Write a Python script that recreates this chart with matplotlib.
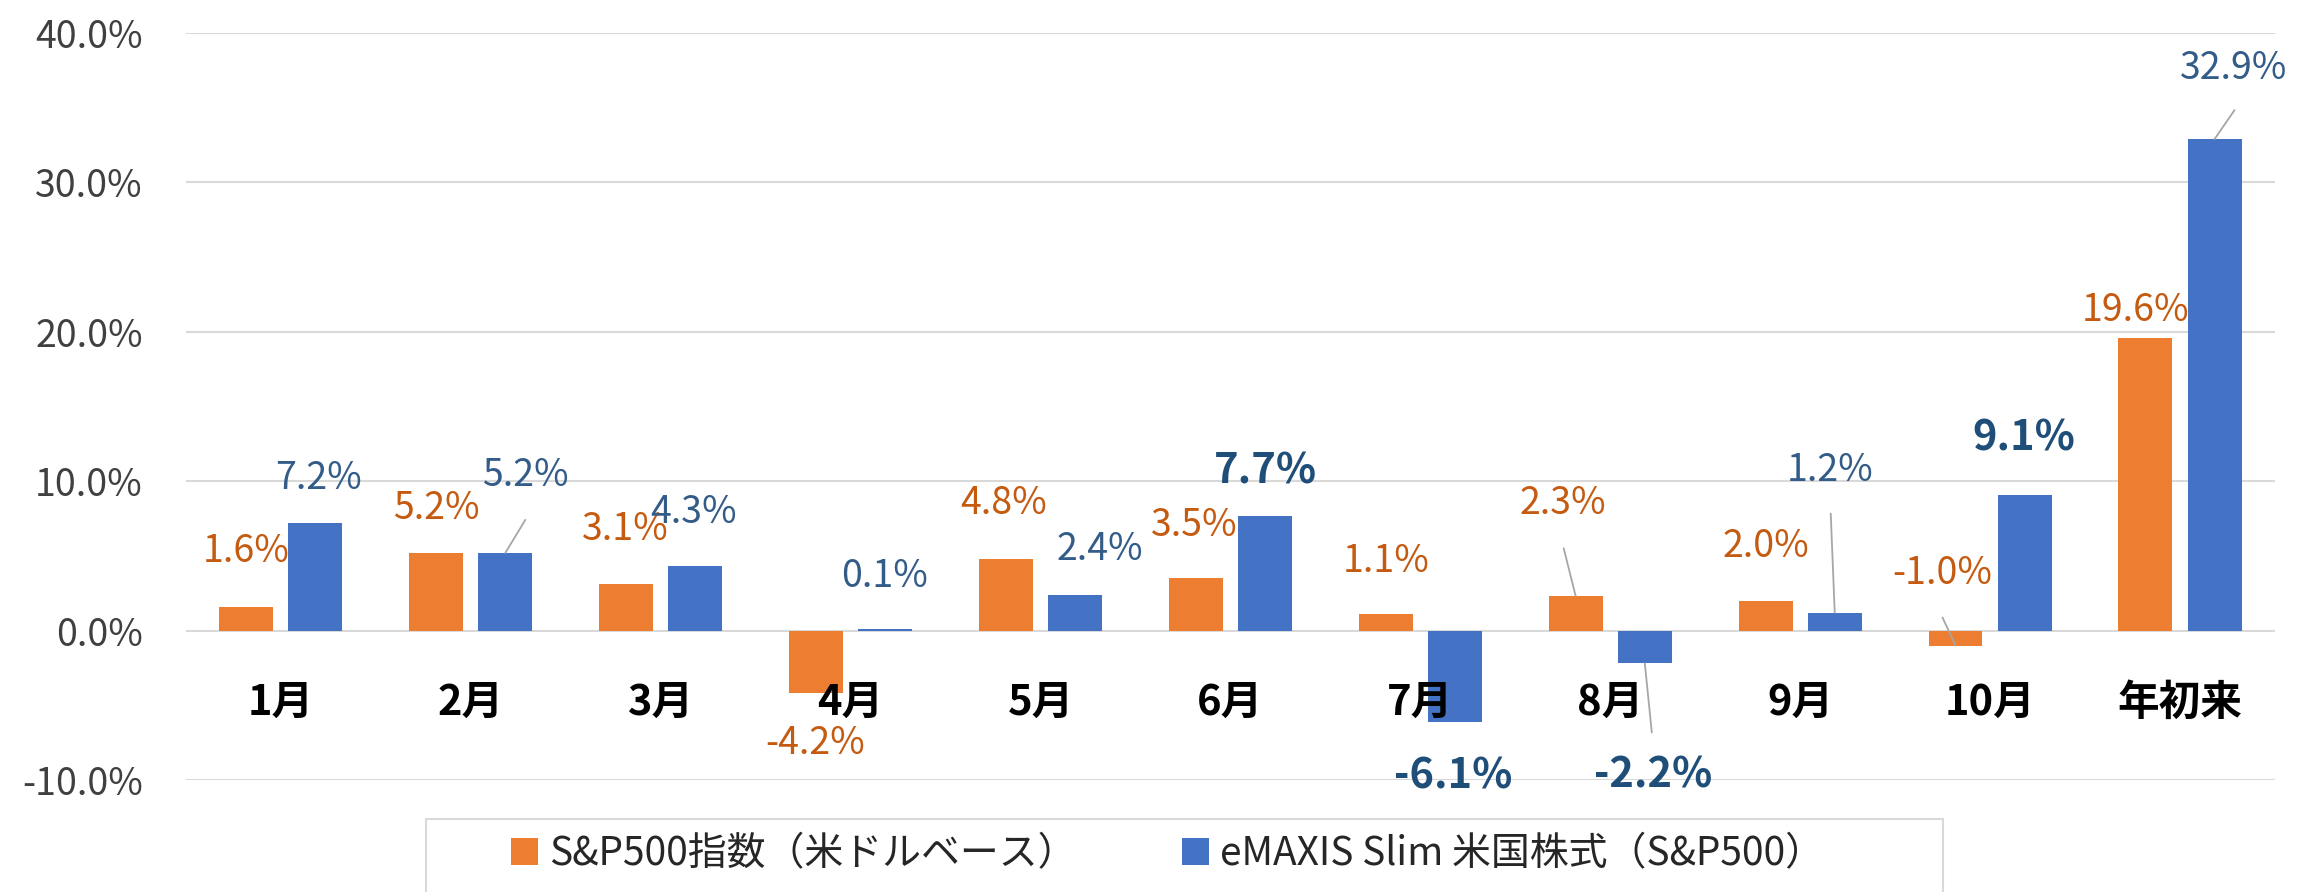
import numpy as np
import matplotlib
matplotlib.use('Agg')
import matplotlib.pyplot as plt
from matplotlib.patches import Rectangle

# データ
categories = ['1月', '2月', '3月', '4月', '5月', '6月', '7月', '8月', '9月', '10月', '年初来']
sp500 = [1.6, 5.2, 3.1, -4.2, 4.8, 3.5, 1.1, 2.3, 2.0, -1.0, 19.6]
emaxis = [7.2, 5.2, 4.3, 0.1, 2.4, 7.7, -6.1, -2.2, 1.2, 9.1, 32.9]
series_names = ['S&P500指数（米ドルベース）', 'eMAXIS Slim 米国株式（S&P500）']
yticks = [-10, 0, 10, 20, 30, 40]

# ラベル位置（バー端からのずれ, px）
sp_dx = [0, 0, -1, -1, -2, -2, 0, -13, 0, -13, -10]
sp_dy = [55, 44, 55, -50, 55, 53, 53, 93, 54, 72, 27]
em_dx = [3, 20, -2, -1, 25, 0, -2, 8, -5, -1, 19]
em_dy = [45, 77, 54, 53, 45, 44, -55, -112, 142, 56, 71]
em_bold = [5, 6, 7, 9]
# 引き出し線 (系列, 番号, dx, dy) px
leaders = [(1, 1, 20, 33), (0, 7, -12, 48), (1, 7, 7, -69), (1, 8, -4, 99),
           (0, 9, -13, 28), (1, 10, 20, 29)]

plt.rcParams['font.family'] = ['Noto Sans CJK JP', 'DejaVu Sans']

ORANGE = '#ED7D31'
BLUE = '#4472C4'
GRID = '#D9D9D9'
PT = 0.72  # px -> pt (dpi 100)

fig = plt.figure(figsize=(23.15, 8.92), dpi=100)
ax = fig.add_axes([0.0803, 0.1256, 0.9024, 0.8374])

x = np.arange(len(categories))
w = 0.284
off = 0.182
b1 = ax.bar(x - off, sp500, w, color=ORANGE, label=series_names[0], zorder=3)
b2 = ax.bar(x + off, emaxis, w, color=BLUE, label=series_names[1], zorder=3)

ax.set_xlim(-0.5, len(categories) - 0.5)
ax.set_ylim(-10, 40)
ax.set_yticks(yticks)
ax.set_yticklabels([f'{v:.1f}%' for v in yticks], fontsize=27, color='#404040')
ax.set_xticks([])
ax.tick_params(axis='y', length=0, pad=31)
ax.grid(axis='y', color=GRID, linewidth=1.5, zorder=0)
for s in ax.spines.values():
    s.set_visible(False)

# カテゴリラベル（0ライン下）
for i, c in enumerate(categories):
    ax.annotate(c, xy=(i, 0), xytext=(0, -52), textcoords='offset points',
                ha='center', va='center', fontsize=30, fontweight='bold', color='black')

# データラベル
vals = [sp500, emaxis]
for i in range(len(categories)):
    v = sp500[i]
    ax.annotate(f'{v:.1f}%', xy=(i - off, v), xytext=(sp_dx[i] * PT, sp_dy[i] * PT),
                textcoords='offset points', ha='center', va='center',
                fontsize=27, color='#C55A11', zorder=5)
    v = emaxis[i]
    if i in em_bold:
        ax.annotate(f'{v:.1f}%', xy=(i + off, v), xytext=(em_dx[i] * PT, em_dy[i] * PT),
                    textcoords='offset points', ha='center', va='center',
                    fontsize=30, fontweight='bold', color='#1F4E79', zorder=5)
    else:
        ax.annotate(f'{v:.1f}%', xy=(i + off, v), xytext=(em_dx[i] * PT, em_dy[i] * PT),
                    textcoords='offset points', ha='center', va='center',
                    fontsize=27, color='#335C88', zorder=5)

# 引き出し線
for s, i, dx, dy in leaders:
    xx = i - off if s == 0 else i + off
    ax.annotate('', xy=(xx, vals[s][i]), xytext=(dx * PT, dy * PT), textcoords='offset points',
                arrowprops=dict(arrowstyle='-', color='#A6A6A6', lw=1.3, shrinkA=0, shrinkB=0),
                zorder=6)

# 凡例
fig.patches.append(Rectangle((426 / 2315, -0.1), (1943 - 426) / 2315, 0.1 + 1 - 819 / 892,
                             transform=fig.transFigure, facecolor='white',
                             edgecolor=GRID, linewidth=1.5))
fig.legend(handles=[b1, b2], loc='center left', bbox_to_anchor=(511 / 2315, 1 - 854 / 892),
           ncol=2, frameon=False, fontsize=28, handlelength=0.7, handleheight=0.67,
           handletextpad=0.28, columnspacing=2.7, borderpad=0, borderaxespad=0,
           labelcolor='#262626')

fig.savefig('out.png', dpi=100)
